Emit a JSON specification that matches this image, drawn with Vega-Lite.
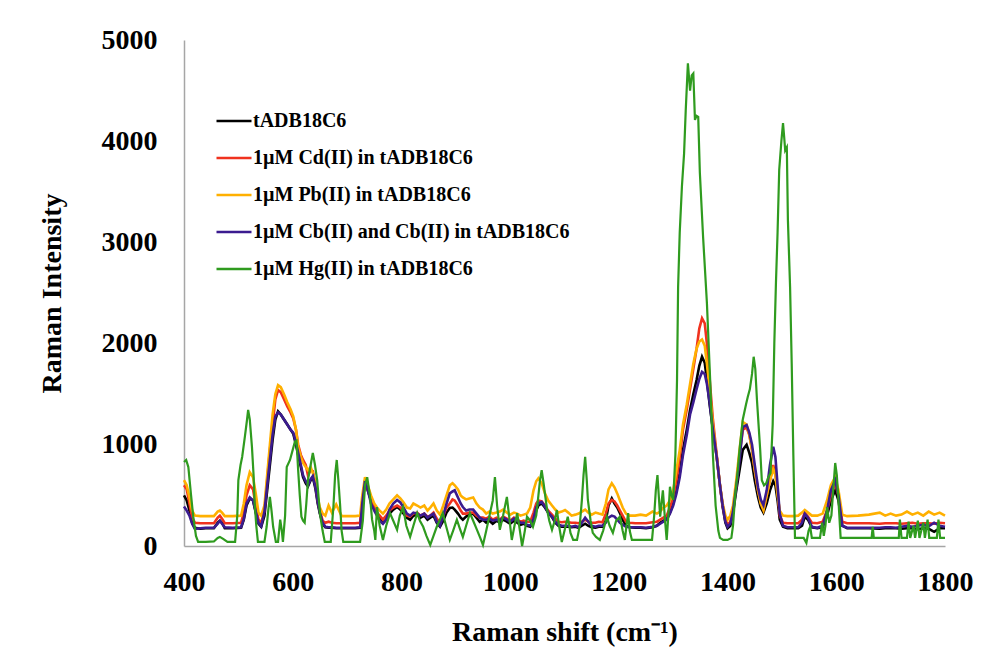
{
  "$schema": "https://vega.github.io/schema/vega-lite/v6.json",
  "width": 761,
  "height": 506,
  "autosize": {"type": "none"},
  "padding": {"left": 184, "top": 40, "right": 41, "bottom": 104},
  "background": "white",
  "config": {
    "view": {"stroke": null},
    "font": "Liberation Serif",
    "axis": {
      "grid": false,
      "ticks": false,
      "tickSize": 0,
      "domainColor": "#A6A6A6",
      "domainWidth": 1.5,
      "labelFont": "Liberation Serif",
      "labelFontWeight": "bold",
      "labelFontSize": 28,
      "labelColor": "#000000",
      "labelFlush": false,
      "labelOverlap": false,
      "labelBound": false,
      "titleFont": "Liberation Serif",
      "titleFontWeight": "bold",
      "titleFontSize": 28,
      "titleColor": "#000000"
    },
    "legend": {
      "orient": "none",
      "legendX": 31,
      "legendY": 62,
      "padding": 0,
      "symbolType": "stroke",
      "symbolSize": 1225,
      "symbolStrokeWidth": 2.5,
      "rowPadding": 8,
      "labelFont": "Liberation Serif",
      "labelFontWeight": "bold",
      "labelFontSize": 20,
      "labelColor": "#000000",
      "labelOffset": 0,
      "labelLimit": 500,
      "title": null
    }
  },
  "encoding": {
    "x": {
      "field": "x",
      "type": "quantitative",
      "scale": {"domain": [400, 1800], "nice": false, "zero": false},
      "axis": {
        "values": [400, 600, 800, 1000, 1200, 1400, 1600, 1800],
        "format": "d",
        "labelPadding": 22,
        "title": "Raman shift (cm⁻¹)",
        "titleBaseline": "middle",
        "titleY": 86
      }
    },
    "y": {
      "field": "y",
      "type": "quantitative",
      "scale": {"domain": [0, 5000], "nice": false},
      "axis": {
        "values": [0, 1000, 2000, 3000, 4000, 5000],
        "format": "d",
        "labelPadding": 27,
        "title": "Raman Intensity",
        "titleAngle": -90,
        "titleBaseline": "middle",
        "titleX": -132,
        "titleY": 253
      }
    },
    "color": {
      "field": "series",
      "type": "nominal",
      "scale": {
        "domain": ["k", "cd", "pb", "cb", "hg"],
        "range": ["#000000", "#F0321E", "#FFB000", "#3B1B8F", "#2F9B1F"]
      },
      "legend": {
        "labelExpr": "{'k':'tADB18C6','cd':'1µM Cd(II) in tADB18C6','pb':'1µM Pb(II) in tADB18C6','cb':'1µM Cb(II) and Cb(II) in tADB18C6','hg':'1µM Hg(II) in tADB18C6'}[datum.label]"
      }
    }
  },
  "layer": [
    {
      "data": {"values": [
        {"x":400,"k":500,"cd":600,"pb":650,"cb":390},
        {"x":405,"k":450,"cd":560,"pb":600,"cb":350},
        {"x":410,"k":350,"cd":420,"pb":480,"cb":300},
        {"x":415,"k":230,"cd":280,"pb":350,"cb":220},
        {"x":420,"k":180,"cd":230,"pb":300,"cb":170},
        {"x":430,"k":170,"cd":225,"pb":295,"cb":175},
        {"x":440,"k":175,"cd":225,"pb":295,"cb":180},
        {"x":455,"k":175,"cd":225,"pb":295,"cb":180},
        {"x":462,"k":230,"cd":280,"pb":340,"cb":220},
        {"x":466,"k":250,"cd":300,"pb":350,"cb":250},
        {"x":470,"k":230,"cd":270,"pb":330,"cb":220},
        {"x":475,"k":175,"cd":225,"pb":295,"cb":185},
        {"x":490,"k":175,"cd":225,"pb":295,"cb":180},
        {"x":505,"k":180,"cd":230,"pb":300,"cb":185},
        {"x":510,"k":260,"cd":330,"pb":420,"cb":270},
        {"x":515,"k":400,"cd":500,"pb":600,"cb":420},
        {"x":521,"k":470,"cd":600,"pb":730,"cb":480},
        {"x":527,"k":450,"cd":560,"pb":680,"cb":450},
        {"x":532,"k":330,"cd":400,"pb":520,"cb":340},
        {"x":537,"k":220,"cd":260,"pb":330,"cb":230},
        {"x":542,"k":190,"cd":230,"pb":300,"cb":195},
        {"x":548,"k":300,"cd":350,"pb":400,"cb":340},
        {"x":553,"k":550,"cd":650,"pb":700,"cb":600},
        {"x":558,"k":800,"cd":950,"pb":1000,"cb":850},
        {"x":563,"k":1050,"cd":1200,"pb":1300,"cb":1100},
        {"x":568,"k":1250,"cd":1450,"pb":1500,"cb":1280},
        {"x":573,"k":1330,"cd":1540,"pb":1590,"cb":1320},
        {"x":578,"k":1300,"cd":1520,"pb":1570,"cb":1300},
        {"x":584,"k":1250,"cd":1450,"pb":1500,"cb":1250},
        {"x":590,"k":1200,"cd":1380,"pb":1420,"cb":1200},
        {"x":596,"k":1150,"cd":1320,"pb":1350,"cb":1150},
        {"x":601,"k":1110,"cd":1260,"pb":1280,"cb":1120},
        {"x":606,"k":1000,"cd":1150,"pb":1150,"cb":1020},
        {"x":610,"k":900,"cd":1000,"pb":980,"cb":920},
        {"x":615,"k":780,"cd":900,"pb":880,"cb":800},
        {"x":619,"k":680,"cd":850,"pb":820,"cb":700},
        {"x":624,"k":620,"cd":800,"pb":780,"cb":640},
        {"x":628,"k":590,"cd":700,"pb":750,"cb":600},
        {"x":633,"k":650,"cd":750,"pb":780,"cb":660},
        {"x":637,"k":680,"cd":740,"pb":720,"cb":690},
        {"x":642,"k":560,"cd":600,"pb":620,"cb":580},
        {"x":646,"k":420,"cd":450,"pb":480,"cb":440},
        {"x":650,"k":320,"cd":350,"pb":380,"cb":330},
        {"x":655,"k":220,"cd":250,"pb":320,"cb":230},
        {"x":660,"k":185,"cd":230,"pb":300,"cb":190},
        {"x":666,"k":180,"cd":240,"pb":400,"cb":185},
        {"x":672,"k":180,"cd":230,"pb":330,"cb":185},
        {"x":680,"k":175,"cd":225,"pb":410,"cb":180},
        {"x":690,"k":175,"cd":225,"pb":295,"cb":180},
        {"x":700,"k":175,"cd":225,"pb":295,"cb":180},
        {"x":715,"k":175,"cd":225,"pb":295,"cb":180},
        {"x":724,"k":180,"cd":230,"pb":300,"cb":185},
        {"x":728,"k":400,"cd":450,"pb":500,"cb":420},
        {"x":733,"k":650,"cd":640,"pb":680,"cb":640},
        {"x":738,"k":550,"cd":560,"pb":600,"cb":560},
        {"x":744,"k":450,"cd":480,"pb":500,"cb":420},
        {"x":750,"k":380,"cd":380,"pb":420,"cb":350},
        {"x":755,"k":325,"cd":330,"pb":380,"cb":300},
        {"x":760,"k":270,"cd":300,"pb":350,"cb":250},
        {"x":766,"k":230,"cd":260,"pb":320,"cb":220},
        {"x":772,"k":260,"cd":300,"pb":360,"cb":260},
        {"x":778,"k":320,"cd":350,"pb":420,"cb":360},
        {"x":785,"k":360,"cd":380,"pb":460,"cb":420},
        {"x":792,"k":385,"cd":400,"pb":500,"cb":455},
        {"x":798,"k":360,"cd":380,"pb":470,"cb":430},
        {"x":804,"k":320,"cd":340,"pb":430,"cb":380},
        {"x":810,"k":280,"cd":300,"pb":380,"cb":320},
        {"x":816,"k":260,"cd":290,"pb":370,"cb":300},
        {"x":822,"k":300,"cd":320,"pb":420,"cb":330},
        {"x":829,"k":310,"cd":330,"pb":400,"cb":320},
        {"x":835,"k":280,"cd":300,"pb":380,"cb":300},
        {"x":842,"k":300,"cd":320,"pb":400,"cb":320},
        {"x":848,"k":260,"cd":290,"pb":350,"cb":280},
        {"x":853,"k":280,"cd":300,"pb":380,"cb":300},
        {"x":859,"k":300,"cd":330,"pb":420,"cb":320},
        {"x":865,"k":230,"cd":270,"pb":350,"cb":240},
        {"x":871,"k":190,"cd":230,"pb":310,"cb":200},
        {"x":877,"k":250,"cd":300,"pb":400,"cb":300},
        {"x":883,"k":330,"cd":380,"pb":500,"cb":420},
        {"x":889,"k":375,"cd":420,"pb":600,"cb":520},
        {"x":894,"k":380,"cd":460,"pb":620,"cb":540},
        {"x":898,"k":360,"cd":450,"pb":600,"cb":550},
        {"x":904,"k":320,"cd":400,"pb":560,"cb":480},
        {"x":909,"k":280,"cd":350,"pb":500,"cb":420},
        {"x":913,"k":260,"cd":320,"pb":480,"cb":385},
        {"x":919,"k":290,"cd":320,"pb":460,"cb":350},
        {"x":925,"k":310,"cd":330,"pb":470,"cb":360},
        {"x":932,"k":320,"cd":330,"pb":480,"cb":360},
        {"x":938,"k":280,"cd":300,"pb":420,"cb":320},
        {"x":944,"k":240,"cd":280,"pb":380,"cb":280},
        {"x":950,"k":260,"cd":280,"pb":360,"cb":260},
        {"x":956,"k":230,"cd":270,"pb":320,"cb":260},
        {"x":962,"k":250,"cd":290,"pb":340,"cb":270},
        {"x":968,"k":220,"cd":260,"pb":320,"cb":250},
        {"x":975,"k":250,"cd":280,"pb":330,"cb":260},
        {"x":981,"k":230,"cd":260,"pb":340,"cb":250},
        {"x":987,"k":260,"cd":290,"pb":360,"cb":280},
        {"x":994,"k":240,"cd":270,"pb":330,"cb":260},
        {"x":1000,"k":220,"cd":250,"pb":310,"cb":240},
        {"x":1007,"k":250,"cd":280,"pb":330,"cb":270},
        {"x":1013,"k":230,"cd":260,"pb":320,"cb":250},
        {"x":1019,"k":210,"cd":240,"pb":300,"cb":230},
        {"x":1025,"k":220,"cd":250,"pb":310,"cb":230},
        {"x":1031,"k":200,"cd":240,"pb":320,"cb":210},
        {"x":1037,"k":190,"cd":240,"pb":380,"cb":200},
        {"x":1043,"k":250,"cd":330,"pb":550,"cb":270},
        {"x":1048,"k":350,"cd":420,"pb":640,"cb":380},
        {"x":1052,"k":400,"cd":450,"pb":670,"cb":420},
        {"x":1058,"k":420,"cd":440,"pb":620,"cb":435},
        {"x":1064,"k":380,"cd":400,"pb":520,"cb":390},
        {"x":1070,"k":330,"cd":350,"pb":450,"cb":330},
        {"x":1077,"k":285,"cd":310,"pb":400,"cb":290},
        {"x":1083,"k":230,"cd":270,"pb":360,"cb":240},
        {"x":1089,"k":200,"cd":240,"pb":330,"cb":210},
        {"x":1095,"k":190,"cd":235,"pb":340,"cb":200},
        {"x":1101,"k":190,"cd":240,"pb":355,"cb":200},
        {"x":1107,"k":190,"cd":235,"pb":330,"cb":200},
        {"x":1113,"k":185,"cd":230,"pb":300,"cb":190},
        {"x":1120,"k":190,"cd":230,"pb":310,"cb":200},
        {"x":1126,"k":180,"cd":225,"pb":320,"cb":185},
        {"x":1132,"k":200,"cd":240,"pb":340,"cb":230},
        {"x":1138,"k":220,"cd":260,"pb":360,"cb":280},
        {"x":1144,"k":200,"cd":240,"pb":330,"cb":240},
        {"x":1150,"k":185,"cd":230,"pb":310,"cb":200},
        {"x":1157,"k":180,"cd":230,"pb":330,"cb":190},
        {"x":1163,"k":190,"cd":240,"pb":320,"cb":200},
        {"x":1170,"k":190,"cd":235,"pb":310,"cb":200},
        {"x":1176,"k":250,"cd":320,"pb":420,"cb":230},
        {"x":1181,"k":400,"cd":420,"pb":560,"cb":280},
        {"x":1187,"k":470,"cd":455,"pb":620,"cb":300},
        {"x":1192,"k":420,"cd":440,"pb":580,"cb":290},
        {"x":1197,"k":380,"cd":400,"pb":520,"cb":260},
        {"x":1202,"k":325,"cd":350,"pb":450,"cb":230},
        {"x":1207,"k":260,"cd":300,"pb":380,"cb":210},
        {"x":1213,"k":200,"cd":240,"pb":320,"cb":190},
        {"x":1220,"k":185,"cd":230,"pb":300,"cb":185},
        {"x":1230,"k":180,"cd":225,"pb":300,"cb":185},
        {"x":1240,"k":180,"cd":225,"pb":310,"cb":185},
        {"x":1250,"k":175,"cd":225,"pb":300,"cb":180},
        {"x":1256,"k":180,"cd":230,"pb":320,"cb":185},
        {"x":1262,"k":185,"cd":235,"pb":340,"cb":190},
        {"x":1270,"k":200,"cd":240,"pb":320,"cb":200},
        {"x":1276,"k":230,"cd":260,"pb":340,"cb":220},
        {"x":1282,"k":250,"cd":280,"pb":380,"cb":240},
        {"x":1288,"k":260,"cd":300,"pb":400,"cb":260},
        {"x":1294,"k":330,"cd":380,"pb":450,"cb":320},
        {"x":1300,"k":420,"cd":480,"pb":550,"cb":400},
        {"x":1306,"k":550,"cd":650,"pb":750,"cb":520},
        {"x":1312,"k":720,"cd":880,"pb":950,"cb":680},
        {"x":1318,"k":950,"cd":1150,"pb":1200,"cb":900},
        {"x":1325,"k":1150,"cd":1350,"pb":1400,"cb":1100},
        {"x":1331,"k":1345,"cd":1550,"pb":1600,"cb":1300},
        {"x":1337,"k":1500,"cd":1750,"pb":1800,"cb":1420},
        {"x":1343,"k":1640,"cd":1950,"pb":1950,"cb":1550},
        {"x":1348,"k":1780,"cd":2150,"pb":2020,"cb":1650},
        {"x":1353,"k":1870,"cd":2250,"pb":2040,"cb":1720},
        {"x":1358,"k":1810,"cd":2200,"pb":1980,"cb":1700},
        {"x":1362,"k":1640,"cd":2000,"pb":1800,"cb":1600},
        {"x":1367,"k":1400,"cd":1650,"pb":1550,"cb":1420},
        {"x":1373,"k":1150,"cd":1250,"pb":1200,"cb":1150},
        {"x":1380,"k":880,"cd":900,"pb":880,"cb":880},
        {"x":1386,"k":600,"cd":600,"pb":600,"cb":600},
        {"x":1391,"k":385,"cd":400,"pb":420,"cb":400},
        {"x":1396,"k":230,"cd":260,"pb":300,"cb":240},
        {"x":1400,"k":175,"cd":210,"pb":260,"cb":190},
        {"x":1405,"k":200,"cd":240,"pb":300,"cb":220},
        {"x":1410,"k":325,"cd":360,"pb":400,"cb":340},
        {"x":1416,"k":550,"cd":600,"pb":650,"cb":580},
        {"x":1422,"k":750,"cd":900,"pb":950,"cb":850},
        {"x":1428,"k":950,"cd":1150,"pb":1225,"cb":1175},
        {"x":1435,"k":1000,"cd":1170,"pb":1200,"cb":1195},
        {"x":1440,"k":920,"cd":1100,"pb":1100,"cb":1120},
        {"x":1445,"k":820,"cd":950,"pb":950,"cb":1000},
        {"x":1450,"k":650,"cd":750,"pb":750,"cb":800},
        {"x":1456,"k":485,"cd":550,"pb":550,"cb":580},
        {"x":1461,"k":380,"cd":430,"pb":420,"cb":460},
        {"x":1466,"k":330,"cd":360,"pb":355,"cb":405},
        {"x":1472,"k":420,"cd":500,"pb":500,"cb":550},
        {"x":1478,"k":550,"cd":650,"pb":650,"cb":800},
        {"x":1484,"k":640,"cd":800,"pb":760,"cb":980},
        {"x":1488,"k":600,"cd":700,"pb":700,"cb":880},
        {"x":1492,"k":450,"cd":550,"pb":500,"cb":600},
        {"x":1496,"k":260,"cd":300,"pb":350,"cb":320},
        {"x":1502,"k":190,"cd":230,"pb":300,"cb":200},
        {"x":1510,"k":175,"cd":225,"pb":295,"cb":185},
        {"x":1520,"k":175,"cd":225,"pb":295,"cb":185},
        {"x":1530,"k":175,"cd":225,"pb":300,"cb":185},
        {"x":1537,"k":200,"cd":260,"pb":330,"cb":230},
        {"x":1542,"k":290,"cd":330,"pb":355,"cb":320},
        {"x":1548,"k":260,"cd":290,"pb":330,"cb":280},
        {"x":1555,"k":185,"cd":230,"pb":300,"cb":190},
        {"x":1565,"k":175,"cd":225,"pb":300,"cb":180},
        {"x":1575,"k":185,"cd":240,"pb":320,"cb":200},
        {"x":1583,"k":300,"cd":350,"pb":450,"cb":350},
        {"x":1590,"k":450,"cd":500,"pb":600,"cb":550},
        {"x":1598,"k":550,"cd":620,"pb":680,"cb":650},
        {"x":1604,"k":450,"cd":500,"pb":550,"cb":500},
        {"x":1611,"k":200,"cd":240,"pb":310,"cb":200},
        {"x":1620,"k":175,"cd":225,"pb":295,"cb":180},
        {"x":1640,"k":175,"cd":225,"pb":300,"cb":180},
        {"x":1660,"k":175,"cd":225,"pb":310,"cb":180},
        {"x":1680,"k":170,"cd":220,"pb":330,"cb":180},
        {"x":1690,"k":175,"cd":225,"pb":300,"cb":185},
        {"x":1700,"k":175,"cd":225,"pb":320,"cb":185},
        {"x":1710,"k":175,"cd":225,"pb":300,"cb":180},
        {"x":1720,"k":170,"cd":220,"pb":310,"cb":190},
        {"x":1730,"k":175,"cd":225,"pb":340,"cb":200},
        {"x":1740,"k":175,"cd":230,"pb":310,"cb":190},
        {"x":1750,"k":165,"cd":220,"pb":330,"cb":200},
        {"x":1760,"k":175,"cd":225,"pb":300,"cb":210},
        {"x":1770,"k":170,"cd":225,"pb":340,"cb":195},
        {"x":1780,"k":140,"cd":220,"pb":310,"cb":230},
        {"x":1790,"k":175,"cd":230,"pb":330,"cb":200},
        {"x":1800,"k":175,"cd":225,"pb":300,"cb":190}
      ]},
      "transform": [{"fold": ["k", "cd", "pb", "cb"], "as": ["series", "y"]}],
      "mark": {"type": "line", "strokeWidth": 2.6, "interpolate": "linear"}
    },
    {
      "data": {"values": [
        {"x":400,"hg":830},{"x":404,"hg":850},{"x":408,"hg":780},{"x":413,"hg":500},{"x":417,"hg":290},
        {"x":422,"hg":100},{"x":426,"hg":40},{"x":440,"hg":40},{"x":455,"hg":45},{"x":462,"hg":80},
        {"x":466,"hg":90},{"x":472,"hg":70},{"x":480,"hg":40},{"x":494,"hg":40},{"x":498,"hg":300},
        {"x":500,"hg":650},{"x":504,"hg":800},{"x":507,"hg":880},{"x":512,"hg":1080},{"x":516,"hg":1250},
        {"x":518,"hg":1345},{"x":521,"hg":1250},{"x":525,"hg":980},{"x":528,"hg":700},{"x":530,"hg":420},
        {"x":533,"hg":200},{"x":536,"hg":40},{"x":548,"hg":40},{"x":552,"hg":190},{"x":555,"hg":350},
        {"x":558,"hg":485},{"x":561,"hg":350},{"x":564,"hg":190},{"x":569,"hg":40},{"x":573,"hg":40},
        {"x":577,"hg":260},{"x":580,"hg":150},{"x":582,"hg":40},{"x":586,"hg":300},{"x":589,"hg":780},
        {"x":595,"hg":850},{"x":600,"hg":950},{"x":604,"hg":1030},{"x":607,"hg":1040},{"x":610,"hg":750},
        {"x":613,"hg":500},{"x":616,"hg":290},{"x":619,"hg":250},{"x":622,"hg":230},{"x":625,"hg":420},
        {"x":628,"hg":650},{"x":633,"hg":800},{"x":637,"hg":920},{"x":641,"hg":800},{"x":645,"hg":650},
        {"x":650,"hg":325},{"x":655,"hg":150},{"x":659,"hg":40},{"x":670,"hg":40},{"x":675,"hg":400},
        {"x":678,"hg":700},{"x":681,"hg":850},{"x":684,"hg":650},{"x":687,"hg":420},{"x":690,"hg":150},
        {"x":693,"hg":40},{"x":724,"hg":40},{"x":729,"hg":250},{"x":733,"hg":600},{"x":737,"hg":680},
        {"x":742,"hg":500},{"x":746,"hg":260},{"x":750,"hg":150},{"x":752,"hg":60},{"x":755,"hg":385},
        {"x":760,"hg":200},{"x":766,"hg":60},{"x":772,"hg":200},{"x":779,"hg":325},{"x":785,"hg":250},
        {"x":792,"hg":160},{"x":797,"hg":300},{"x":803,"hg":385},{"x":809,"hg":200},{"x":816,"hg":90},
        {"x":822,"hg":200},{"x":829,"hg":325},{"x":834,"hg":250},{"x":840,"hg":190},{"x":846,"hg":100},
        {"x":853,"hg":10},{"x":859,"hg":100},{"x":865,"hg":190},{"x":870,"hg":250},{"x":876,"hg":325},
        {"x":882,"hg":200},{"x":889,"hg":60},{"x":895,"hg":150},{"x":902,"hg":260},{"x":907,"hg":180},
        {"x":913,"hg":90},{"x":919,"hg":200},{"x":926,"hg":325},{"x":932,"hg":250},{"x":939,"hg":160},
        {"x":945,"hg":80},{"x":950,"hg":10},{"x":956,"hg":150},{"x":963,"hg":325},{"x":968,"hg":450},
        {"x":972,"hg":680},{"x":976,"hg":400},{"x":981,"hg":160},{"x":987,"hg":300},{"x":994,"hg":485},
        {"x":998,"hg":300},{"x":1003,"hg":60},{"x":1008,"hg":200},{"x":1013,"hg":325},{"x":1018,"hg":150},
        {"x":1022,"hg":0},{"x":1027,"hg":150},{"x":1031,"hg":290},{"x":1037,"hg":250},{"x":1042,"hg":190},
        {"x":1048,"hg":300},{"x":1052,"hg":500},{"x":1055,"hg":650},{"x":1058,"hg":750},{"x":1062,"hg":600},
        {"x":1068,"hg":355},{"x":1072,"hg":250},{"x":1077,"hg":160},{"x":1082,"hg":250},{"x":1086,"hg":355},
        {"x":1090,"hg":200},{"x":1095,"hg":40},{"x":1100,"hg":150},{"x":1106,"hg":290},{"x":1111,"hg":130},
        {"x":1116,"hg":60},{"x":1123,"hg":60},{"x":1128,"hg":200},{"x":1132,"hg":455},{"x":1135,"hg":700},
        {"x":1138,"hg":880},{"x":1141,"hg":650},{"x":1143,"hg":455},{"x":1148,"hg":250},{"x":1152,"hg":130},
        {"x":1158,"hg":90},{"x":1165,"hg":60},{"x":1171,"hg":150},{"x":1178,"hg":290},{"x":1183,"hg":200},
        {"x":1189,"hg":130},{"x":1195,"hg":250},{"x":1202,"hg":290},{"x":1207,"hg":150},{"x":1211,"hg":60},
        {"x":1214,"hg":200},{"x":1217,"hg":325},{"x":1220,"hg":150},{"x":1224,"hg":60},{"x":1240,"hg":60},
        {"x":1255,"hg":60},{"x":1261,"hg":60},{"x":1265,"hg":300},{"x":1268,"hg":550},{"x":1271,"hg":700},
        {"x":1274,"hg":450},{"x":1276,"hg":290},{"x":1279,"hg":450},{"x":1281,"hg":550},{"x":1285,"hg":250},
        {"x":1288,"hg":60},{"x":1291,"hg":300},{"x":1294,"hg":585},{"x":1297,"hg":500},{"x":1300,"hg":455},
        {"x":1304,"hg":900},{"x":1307,"hg":1640},{"x":1309,"hg":2560},{"x":1312,"hg":3100},{"x":1316,"hg":3550},
        {"x":1320,"hg":3880},{"x":1323,"hg":4300},{"x":1327,"hg":4770},{"x":1331,"hg":4500},{"x":1334,"hg":4650},
        {"x":1337,"hg":4670},{"x":1340,"hg":4210},{"x":1343,"hg":4250},{"x":1346,"hg":4240},{"x":1349,"hg":3690},
        {"x":1355,"hg":3050},{"x":1362,"hg":2400},{"x":1368,"hg":1640},{"x":1373,"hg":900},{"x":1378,"hg":400},
        {"x":1383,"hg":150},{"x":1386,"hg":80},{"x":1392,"hg":60},{"x":1400,"hg":60},{"x":1407,"hg":80},
        {"x":1410,"hg":200},{"x":1414,"hg":500},{"x":1418,"hg":700},{"x":1422,"hg":950},{"x":1428,"hg":1250},
        {"x":1434,"hg":1400},{"x":1437,"hg":1470},{"x":1441,"hg":1550},{"x":1445,"hg":1700},{"x":1448,"hg":1870},
        {"x":1451,"hg":1750},{"x":1454,"hg":1450},{"x":1457,"hg":1200},{"x":1460,"hg":950},{"x":1463,"hg":650},
        {"x":1467,"hg":600},{"x":1471,"hg":620},{"x":1475,"hg":680},{"x":1479,"hg":720},{"x":1483,"hg":1200},
        {"x":1486,"hg":2000},{"x":1489,"hg":2600},{"x":1492,"hg":3100},{"x":1495,"hg":3715},{"x":1499,"hg":4000},
        {"x":1502,"hg":4180},{"x":1504,"hg":4050},{"x":1506,"hg":3910},{"x":1509,"hg":3940},{"x":1511,"hg":3220},
        {"x":1515,"hg":2560},{"x":1518,"hg":1800},{"x":1521,"hg":900},{"x":1524,"hg":80},{"x":1540,"hg":80},
        {"x":1545,"hg":30},{"x":1549,"hg":150},{"x":1552,"hg":190},{"x":1555,"hg":80},{"x":1570,"hg":80},
        {"x":1574,"hg":230},{"x":1577,"hg":100},{"x":1580,"hg":200},{"x":1583,"hg":385},{"x":1587,"hg":230},
        {"x":1591,"hg":300},{"x":1595,"hg":600},{"x":1598,"hg":820},{"x":1601,"hg":700},{"x":1604,"hg":450},
        {"x":1608,"hg":80},{"x":1665,"hg":80},{"x":1667,"hg":190},{"x":1669,"hg":80},{"x":1715,"hg":80},
        {"x":1717,"hg":260},{"x":1720,"hg":80},{"x":1730,"hg":80},{"x":1733,"hg":240},{"x":1736,"hg":80},
        {"x":1742,"hg":200},{"x":1745,"hg":80},{"x":1750,"hg":250},{"x":1753,"hg":80},{"x":1760,"hg":230},
        {"x":1763,"hg":80},{"x":1768,"hg":260},{"x":1771,"hg":80},{"x":1785,"hg":80},{"x":1788,"hg":260},
        {"x":1791,"hg":80},{"x":1800,"hg":80}
      ]},
      "transform": [{"fold": ["hg"], "as": ["series", "y"]}],
      "mark": {"type": "line", "strokeWidth": 2.2, "interpolate": "linear"}
    }
  ]
}
